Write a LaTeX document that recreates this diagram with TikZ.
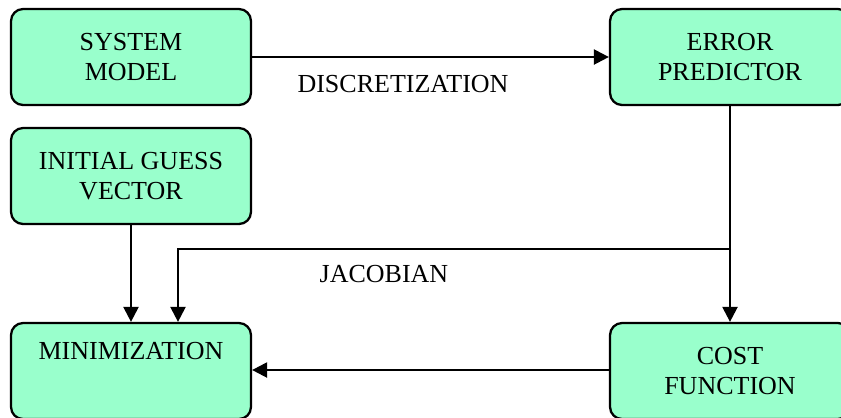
\documentclass[tikz,border=0pt]{standalone}
\usepackage{fontspec}
\setmainfont{Liberation Serif}
\usetikzlibrary{arrows.meta,positioning}

\definecolor{boxgreen}{HTML}{99FFCC}

\tikzset{
	block/.style = {draw, line width=1.3pt, fill=boxgreen, rounded corners=0.24cm,
		minimum width=4.8cm, minimum height=1.92cm, align=center,
		font=\fontsize{14.8}{17.2}\selectfont},
	flow/.style = {line width=1.3pt, -{Triangle[length=0.3cm,width=0.3cm]}},
	lbl/.style = {font=\fontsize{14.8}{17.2}\selectfont}
}

\begin{document}
\begin{tikzpicture}[x=0.02cm, y=-0.02cm]
			\useasboundingbox (0,0) rectangle (841,417);

			\node[block] (sysmodel) at (131,57) {SYSTEM\\MODEL};
			\node[block] (errpred) at (730,57) {ERROR\\PREDICTOR};
			\node[block] (guess) at (131,176) {INITIAL GUESS\\VECTOR};
			\node[block] (minim) at (131,371) {MINIMIZATION\\\strut};
			\node[block] (cost) at (730,371) {COST\\FUNCTION};

			\coordinate (jac) at (731,249);
			\coordinate (jacend) at (178,0);

			\draw[flow] (sysmodel) -- (errpred);
			\draw[flow] (errpred) -- (cost);
			\draw[flow] (jac) -| (jacend |- minim.north);
			\draw[flow] (guess) -- (minim);
			\draw[flow] (cost.west |- 0,370) -- (minim.east |- 0,370);

			\node[lbl] (discr) at (403,84) {DISCRETIZATION};
			\node[lbl] (jacob) at (384,274) {JACOBIAN};

		\end{tikzpicture}
\end{document}
